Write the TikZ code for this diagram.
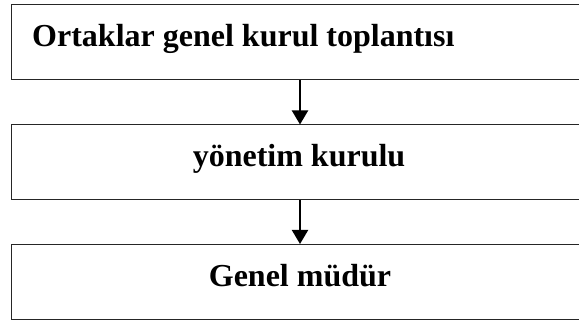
\documentclass[tikz,border=0pt]{standalone}
\usepackage{fontspec}
\setmainfont{Liberation Serif}
\usetikzlibrary{arrows.meta}

\tikzset{
  levelbox/.style={draw=black!85, line width=1pt, minimum width=578pt, minimum height=75pt, inner sep=0pt},
  boxtext/.style={font=\fontsize{32}{36}\selectfont\bfseries, inner sep=0pt},
  downarrow/.style={line width=2pt, -{Triangle[length=14pt,width=16pt]}}
}

\begin{document}
\begin{tikzpicture}[x=1pt,y=1pt]
  \useasboundingbox (0,0) rectangle (579,320);

  % three stacked levels; the boxes run past the right margin
  \node[levelbox] (b1) at (300,277.5) {};
  \node[levelbox] (b2) at (300,157.5) {};
  \node[levelbox] (b3) at (300,38) {};

  \node[boxtext, anchor=base west] (t1) at (32,273) {Ortaklar genel kurul toplantısı};
  \node[boxtext, anchor=base] (t2) at (299,153) {yönetim kurulu};
  \node[boxtext, anchor=base] (t3) at (300,33) {Genel müdür};

  \draw[downarrow] (b1.south) -- (b2.north);
  \draw[downarrow] (b2.south) -- (b3.north);
\end{tikzpicture}
\end{document}
